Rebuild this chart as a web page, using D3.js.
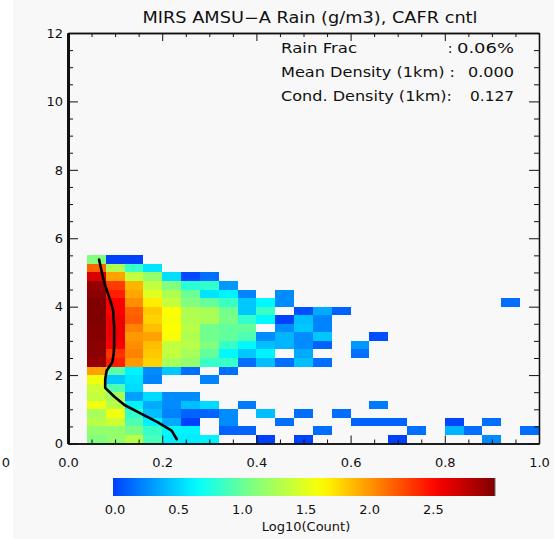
<!DOCTYPE html>
<html><head><meta charset="utf-8">
<script src="https://cdn.jsdelivr.net/npm/d3@7"></script>
<style>
body{margin:0;background:#f8f8f8;}
text{font-family:"DejaVu Sans",sans-serif;fill:#111;}
</style>
</head><body><svg id="c" width="554" height="539"></svg>
<script>
// ---------- DATA ----------
const titleText = "MIRS AMSU\u2212A Rain (g/m3), CAFR cntl";
const statLabels = ["Rain Frac", "Mean Density (1km) :", "Cond. Density (1km):"];
const statValues = ["0.06%", "0.000", "0.127"];
const xBins = [0.00,0.04,0.08,0.12,0.16,0.20,0.24,0.28,0.32,0.36,0.40,0.44,0.48,0.52,0.56,0.60,0.64,0.68,0.72,0.76,0.80,0.84,0.88,0.92,0.96];
const yBins = [0.00,0.25,0.50,0.75,1.00,1.25,1.50,1.75,2.00,2.25,2.50,2.75,3.00,3.25,3.50,3.75,4.00,4.25,4.50,4.75,5.00,5.25];
const _ = null;
// log10(count), one row per y bin (bottom to top), one entry per x bin
const logCount = [
 [_,1.11,1.18,1.34,0.90,0.62,0.60,0.62,_,_,0.00,_,0.00,_,_,_,_,0.00,_,_,_,_,0.26,_,_],
 [_,1.18,1.18,1.08,0.85,0.64,0.62,_,0.12,0.12,_,_,_,0.16,_,_,_,_,0.16,_,0.40,0.16,_,_,0.16],
 [_,1.34,1.43,0.93,0.62,0.37,0.00,_,0.26,_,_,0.16,_,_,_,0.12,0.12,0.12,_,_,0.02,_,0.16,_,_],
 [_,1.26,1.58,0.83,0.44,0.23,0.12,0.12,0.26,_,0.44,_,0.16,_,0.16,_,_,_,_,_,_,_,_,_,_],
 [_,1.58,1.34,0.62,0.37,0.26,0.44,0.54,_,0.20,_,_,_,_,_,_,0.20,_,_,_,_,_,_,_,_],
 [_,1.38,1.26,0.33,0.54,0.26,0.26,_,_,_,_,_,_,_,_,_,_,_,_,_,_,_,_,_,_],
 [_,1.43,0.93,0.54,_,_,_,_,_,_,_,_,_,_,_,_,_,_,_,_,_,_,_,_,_],
 [_,1.58,0.47,0.57,0.23,_,_,0.23,_,_,_,_,_,_,_,_,_,_,_,_,_,_,_,_,_],
 [_,1.97,0.97,0.62,0.26,0.47,0.16,_,0.16,_,_,_,_,_,_,_,_,_,_,_,_,_,_,_,_],
 [_,2.92,2.43,2.00,1.80,1.26,1.18,0.85,0.85,0.16,0.44,0.16,0.44,0.16,_,_,_,_,_,_,_,_,_,_,_],
 [_,2.96,2.36,2.08,1.83,1.38,1.26,1.00,0.64,0.47,0.62,_,0.37,_,_,0.16,_,_,_,_,_,_,_,_,_],
 [_,2.96,2.55,2.04,1.87,1.38,1.34,1.11,0.85,0.64,0.44,0.40,0.26,0.12,_,0.30,_,_,_,_,_,_,_,_,_],
 [_,2.98,2.60,2.00,1.97,1.60,1.30,1.05,1.00,0.93,0.26,0.40,0.26,0.47,_,_,0.05,_,_,_,_,_,_,_,_],
 [_,2.98,2.60,2.08,1.87,1.64,1.34,1.05,1.00,1.00,_,0.26,0.47,0.23,_,_,_,_,_,_,_,_,_,_,_],
 [_,3.00,2.60,2.22,1.80,1.60,1.30,1.27,1.08,0.83,0.64,0.00,0.44,0.23,_,_,_,_,_,_,_,_,_,_,_],
 [_,3.00,2.55,2.19,1.83,1.64,1.30,1.27,1.05,0.47,0.86,_,0.05,0.37,0.12,_,_,_,_,_,_,_,_,_,_],
 [_,3.00,2.55,2.04,1.70,1.38,1.10,1.00,0.86,0.47,0.64,0.26,_,_,_,_,_,_,_,_,_,_,_,0.16,_],
 [_,2.96,2.43,1.95,1.50,1.30,1.03,0.57,0.62,0.23,_,0.26,_,_,_,_,_,_,_,_,_,_,_,_,_],
 [_,2.92,2.33,1.90,1.38,1.11,0.80,0.83,0.30,_,_,_,_,_,_,_,_,_,_,_,_,_,_,_,_],
 [_,2.68,1.97,1.38,1.18,0.55,0.03,0.16,_,_,_,_,_,_,_,_,_,_,_,_,_,_,_,_,_],
 [_,2.19,1.30,0.85,0.57,_,_,_,_,_,_,_,_,_,_,_,_,_,_,_,_,_,_,_,_],
 [_,1.11,0.00,0.00,_,_,_,_,_,_,_,_,_,_,_,_,_,_,_,_,_,_,_,_,_]
];
// mean profile (black line)
const profileY = [0.125,0.375,0.625,0.875,1.125,1.375,1.625,1.875,2.125,2.375,2.625,2.875,3.125,3.375,3.625,3.875,4.125,4.375,4.625,4.875,5.125,5.375];
const profileX = [0.231,0.220,0.190,0.155,0.120,0.098,0.079,0.079,0.082,0.094,0.097,0.098,0.098,0.098,0.097,0.096,0.091,0.085,0.079,0.074,0.070,0.066];
const xTicks = [0.0,0.2,0.4,0.6,0.8,1.0];
const xMinor = [0.05,0.10,0.15,0.25,0.30,0.35,0.45,0.50,0.55,0.65,0.70,0.75,0.85,0.90,0.95];
const yTicks = [0,2,4,6,8,10,12];
const yMinor = [0.5,1,1.5,2.5,3,3.5,4.5,5,5.5,6.5,7,7.5,8.5,9,9.5,10.5,11,11.5];
const cbTicks = [0.0,0.5,1.0,1.5,2.0,2.5];
const cbMax = 3.0;

// ---------- DRAW ----------
const svg = d3.select("#c");
svg.append("rect").attr("width",554).attr("height",539).attr("fill","#f8f8f8");
svg.append("rect").attr("width",13).attr("height",539).attr("fill","#ffffff");

const x = d3.scaleLinear().domain([0,1]).range([68,539]);
const y = d3.scaleLinear().domain([0,12]).range([443.5,33]);

const cmapStops = [0,0.66,1.1,1.64,2.54,3.0];
const cmapColors = ["#0040ff","#00ffff","#80ff80","#ffff00","#ff0000","#800000"];
const color = d3.scaleLinear().domain(cmapStops).range(cmapColors).interpolate(d3.interpolateRgb).clamp(true);

const xStep = xBins[1]-xBins[0], yStep = yBins[1]-yBins[0];
const cells = [];
logCount.forEach((row,ri)=>row.forEach((v,ci)=>{ if(v!==null) cells.push({x0:xBins[ci],y0:yBins[ri],v}); }));
svg.append("g").selectAll("rect").data(cells).join("rect")
  .attr("x",d=>x(d.x0)).attr("y",d=>y(d.y0+yStep))
  .attr("width",x(xStep)-x(0)).attr("height",y(0)-y(yStep))
  .attr("fill",d=>color(d.v)).attr("shape-rendering","crispEdges");

// profile line
const line = d3.line().x(d=>x(d[0])).y(d=>y(d[1]));
svg.append("path").datum(profileX.map((v,i)=>[v,profileY[i]]))
  .attr("d",line).attr("fill","none").attr("stroke","#000").attr("stroke-width",2.6)
  .attr("stroke-linejoin","round").attr("stroke-linecap","round");

function styleAxis(g, w){
  g.attr("font-size",13).attr("font-family","DejaVu Sans, sans-serif");
  g.selectAll(".tick line").attr("stroke","#111").attr("stroke-width",1);
  g.select(".domain").attr("stroke","#111").attr("stroke-width",w);
  g.selectAll("text").attr("fill","#111");
}
// bottom
let g = svg.append("g").attr("transform",`translate(0,${y(0)})`)
  .call(d3.axisBottom(x).tickValues(xTicks).tickSize(-8).tickSizeOuter(0).tickPadding(14).tickFormat(d3.format(".1f")));
styleAxis(g,1.3);
g = svg.append("g").attr("transform",`translate(0,${y(0)})`)
  .call(d3.axisBottom(x).tickValues(xMinor).tickSize(-4).tickSizeOuter(0).tickFormat(""));
styleAxis(g,1.3);
// top
g = svg.append("g").attr("transform",`translate(0,${y(12)})`)
  .call(d3.axisTop(x).tickValues(xTicks).tickSize(-8).tickSizeOuter(0).tickFormat(""));
styleAxis(g,1.3);
g = svg.append("g").attr("transform",`translate(0,${y(12)})`)
  .call(d3.axisTop(x).tickValues(xMinor).tickSize(-4).tickSizeOuter(0).tickFormat(""));
styleAxis(g,1.3);
// right
g = svg.append("g").attr("transform",`translate(${x(1)},0)`)
  .call(d3.axisRight(y).tickValues(yTicks).tickSize(-10).tickSizeOuter(0).tickFormat(""));
styleAxis(g,1.3);
g = svg.append("g").attr("transform",`translate(${x(1)},0)`)
  .call(d3.axisRight(y).tickValues(yMinor).tickSize(-5).tickSizeOuter(0).tickFormat(""));
styleAxis(g,1.3);
// left
g = svg.append("g").attr("transform",`translate(${x(0)},0)`)
  .call(d3.axisLeft(y).tickValues(yMinor).tickSize(-5).tickSizeOuter(0).tickFormat(""));
styleAxis(g,3);
g = svg.append("g").attr("transform",`translate(${x(0)},0)`)
  .call(d3.axisLeft(y).tickValues(yTicks).tickSize(-10).tickSizeOuter(0).tickPadding(5).tickFormat(d3.format("d")));
styleAxis(g,3);

// stray label at far left
svg.append("text").attr("x",6).attr("y",466.5).attr("text-anchor","middle").attr("font-size",13).text("0");

// title
svg.append("text").attr("x",310).attr("y",22.5).attr("text-anchor","middle").attr("font-size",15)
  .attr("textLength",335).attr("lengthAdjust","spacingAndGlyphs").text(titleText);

// stats box
const statY = [53, 77, 101];
const statLabelW = [76, 174, 171];
const statValW = [57, 46, 44];
statLabels.forEach((s,i)=>{
  svg.append("text").attr("x",281).attr("y",statY[i]).attr("font-size",14)
    .attr("textLength",statLabelW[i]).attr("lengthAdjust","spacingAndGlyphs").text(s);
  svg.append("text").attr("x",514).attr("y",statY[i]).attr("font-size",14).attr("text-anchor","end")
    .attr("textLength",statValW[i]).attr("lengthAdjust","spacingAndGlyphs").text(statValues[i]);
});
svg.append("text").attr("x",450).attr("y",statY[0]).attr("font-size",14).attr("text-anchor","middle").text(":");

// colorbar
const cb = d3.scaleLinear().domain([0,cbMax]).range([113,495]);
const grad = svg.append("defs").append("linearGradient").attr("id","cbg").attr("x1","0%").attr("x2","100%");
d3.range(0,31).forEach(i=>{
  const v = cbMax*i/30;
  grad.append("stop").attr("offset",(i/30*100)+"%").attr("stop-color",color(v));
});
svg.append("rect").attr("x",cb(0)).attr("y",478).attr("width",cb(cbMax)-cb(0)).attr("height",18).attr("fill","url(#cbg)");
svg.append("line").attr("x1",cb(cbMax)).attr("x2",cb(cbMax)).attr("y1",478).attr("y2",496).attr("stroke","#666").attr("stroke-width",1);
svg.append("g").selectAll("text").data(cbTicks).join("text")
  .attr("x",d=>cb(d)+2).attr("y",514).attr("text-anchor","middle").attr("font-size",13)
  .text(d=>d3.format(".1f")(d));
svg.append("text").attr("x",306).attr("y",531).attr("text-anchor","middle").attr("font-size",13).text("Log10(Count)");
</script>
</body></html>
